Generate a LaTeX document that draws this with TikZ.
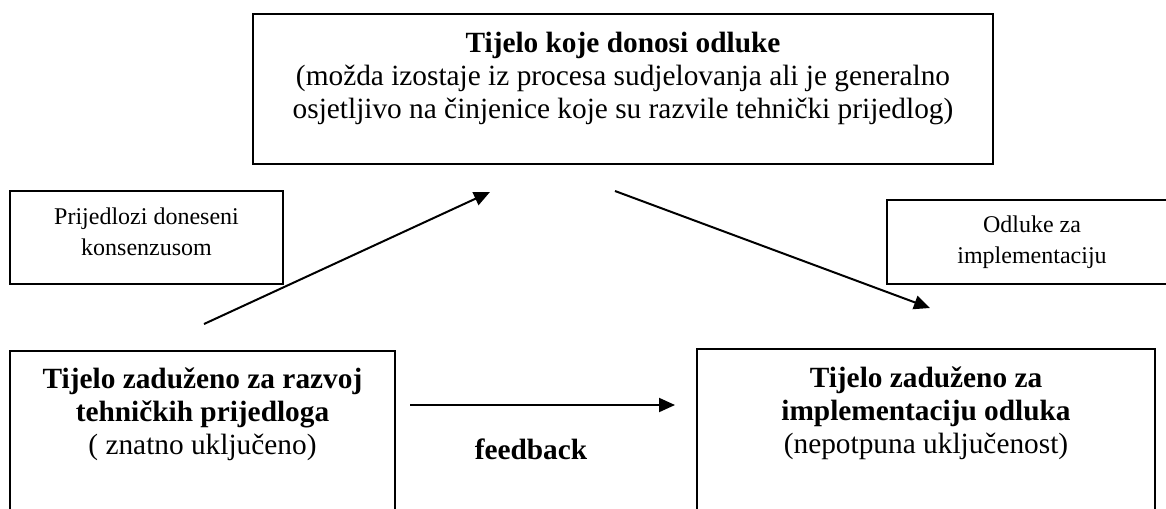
\documentclass[tikz,border=0pt]{standalone}
\usepackage{fontspec}
\setmainfont{Liberation Serif}
\usetikzlibrary{arrows.meta,fit}
\begin{document}
\begin{tikzpicture}[x=0.75pt,y=-0.75pt,
  box/.style={draw, line width=1.3pt, inner sep=0pt},
  big/.style={align=center, inner sep=0pt, font=\fontsize{22}{24.75}\selectfont},
  small/.style={align=center, inner sep=0pt, font=\fontsize{18}{23.25}\selectfont},
  arr/.style={line width=1.5pt, -{Triangle[length=12pt,width=10.5pt]}}]
\useasboundingbox (0,0) rectangle (1166,508);
\clip (0,0) rectangle (1166,508);
% boxes
\node[box, fit={(253,14) (993,164)}] (top) {};
\node[box, fit={(10,191) (283,284)}] (lsmall) {};
\node[box, fit={(887,200) (1177,284)}] (rsmall) {};
\node[box, fit={(10,351) (395,540)}] (lbox) {};
\node[box, fit={(697,349) (1155,540)}] (rbox) {};
% texts
\node[big, anchor=north] (topT) at (623,32) {\textbf{Tijelo koje donosi odluke}\\(možda izostaje iz procesa sudjelovanja ali je generalno\\osjetljivo na činjenice koje su razvile tehnički prijedlog)};
\node[small, anchor=north] (lsmallT) at (146.5,207.5) {Prijedlozi doneseni\\konsenzusom};
\node[small, anchor=north] (rsmallT) at (1032,215.5) {Odluke za\\implementaciju};
\node[big, anchor=north] (lboxT) at (202.5,368) {\textbf{Tijelo zaduženo za razvoj}\\\textbf{tehničkih prijedloga}\\( znatno uključeno)};
\node[big, anchor=north] (rboxT) at (926,367) {\textbf{Tijelo zaduženo za}\\\textbf{implementaciju odluka}\\(nepotpuna uključenost)};
\node[big, anchor=base] (fb) at (531,459) {\textbf{feedback}};
% arrows
\coordinate (a1s) at (204,324);
\coordinate (a1e) at (490,192);
\coordinate (a2s) at (615,191);
\coordinate (a2e) at (930,308);
\coordinate (a3s) at (410,405);
\coordinate (a3e) at (675,405);
\draw[arr] (a1s) -- (a1e);
\draw[arr] (a2s) -- (a2e);
\draw[arr] (a3s) -- (a3e);
\end{tikzpicture}
\end{document}
